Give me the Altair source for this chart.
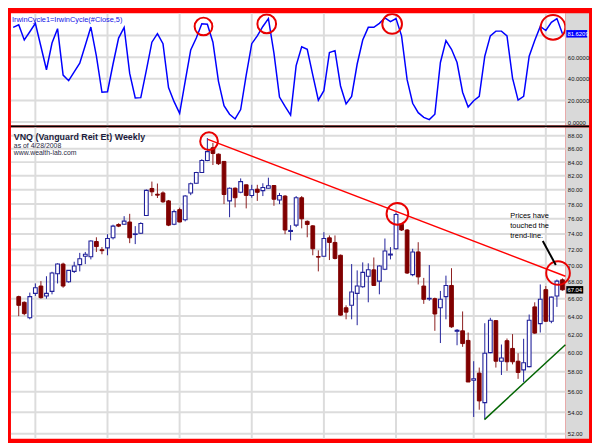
import altair as alt
import pandas as pd

# ---------------- data ----------------
# VNQ weekly candles (week 1 .. 99), last week = 4/28/2008
opens = [66.24, 65.58, 63.81, 66.62, 67.49, 66.32, 66.86, 68.98, 70.16, 68.0,
         69.26, 70.09, 71.14, 71.07, 73.01, 71.96, 72.2, 73.49, 75.24, 75.27,
         75.57, 73.92, 74.09, 76.44, 80.18, 79.37, 79.55, 78.44, 75.27, 77.24,
         75.87, 79.55, 80.92, 82.47, 84.24, 86.15, 85.19, 84.1, 78.44, 80.22,
         79.64, 80.7, 79.2, 80.08, 79.87, 80.22, 80.6, 78.57, 79.11, 74.32,
         75.15, 78.88, 75.66, 75.06, 71.1, 71.14, 73.49, 72.89, 71.26, 64.95,
         65.23, 66.62, 67.41, 68.67, 69.45, 68.08, 69.53, 71.29, 72.08, 75.27,
         74.51, 68.86, 71.68, 67.49, 65.97, 66.0, 64.95, 66.24, 67.56, 62.31,
         62.36, 61.31, 57.15, 57.87, 54.93, 60.0, 63.49, 59.1, 61.28, 60.45,
         59.1, 58.2, 58.54, 65.05, 63.16, 67.06, 63.42, 66.32, 68.24]
highs = [66.35, 65.68, 66.71, 67.8, 68.08, 68.67, 69.21, 70.25, 70.33, 69.41,
         70.45, 71.56, 71.68, 73.16, 73.56, 72.29, 73.96, 75.21, 75.4, 76.35,
         76.67, 75.02, 75.53, 80.04, 81.16, 80.88, 79.77, 78.57, 77.24, 77.51,
         79.24, 81.02, 82.57, 84.43, 87.65, 86.9, 85.29, 84.14, 80.32, 80.32,
         81.62, 80.74, 80.7, 80.7, 80.92, 81.72, 80.67, 79.55, 79.24, 75.15,
         79.11, 79.11, 75.78, 75.15, 71.88, 74.22, 73.8, 73.8, 71.35, 65.23,
         70.16, 69.38, 70.37, 70.25, 70.98, 70.0, 73.4, 72.29, 76.84, 75.4,
         74.64, 72.08, 72.92, 68.47, 70.04, 66.12, 66.91, 68.74, 69.65, 62.55,
         64.53, 62.17, 59.1, 58.44, 63.2, 63.81, 63.56, 60.87, 61.52, 62.0,
         59.94, 61.49, 64.18, 65.58, 67.68, 67.49, 66.24, 68.27, 68.41]
lows = [64.0, 64.1, 63.64, 66.32, 66.0, 66.0, 66.51, 67.8, 67.29, 67.88,
        69.06, 69.26, 70.16, 70.74, 71.68, 71.39, 71.26, 73.28, 74.89, 75.21,
        72.8, 72.68, 74.0, 76.37, 79.11, 78.84, 78.17, 75.02, 75.15, 75.53,
        75.66, 79.24, 80.88, 82.43, 84.14, 83.57, 83.57, 78.0, 76.21, 77.55,
        79.51, 77.41, 78.88, 78.44, 79.11, 80.18, 77.77, 78.0, 73.96, 73.16,
        74.89, 74.73, 73.56, 71.26, 69.26, 71.1, 70.66, 70.74, 64.05, 63.64,
        63.64, 62.98, 67.29, 65.58, 67.53, 66.51, 69.41, 70.74, 71.96, 74.38,
        68.94, 68.67, 67.68, 65.4, 65.76, 62.36, 61.03, 63.64, 62.69, 60.79,
        60.62, 56.97, 53.56, 54.25, 53.37, 59.94, 58.44, 57.68, 58.1, 58.77,
        57.29, 56.97, 58.47, 62.03, 62.17, 63.34, 63.2, 65.05, 66.94]
closes = [65.23, 64.28, 66.24, 67.29, 66.12, 66.62, 69.06, 70.16, 67.49, 69.38,
          69.92, 70.82, 71.39, 73.08, 72.36, 71.84, 73.4, 75.02, 75.02, 75.69,
          73.49, 74.0, 75.36, 79.91, 79.71, 79.24, 78.31, 75.15, 76.97, 75.57,
          79.11, 80.84, 82.47, 84.24, 85.57, 85.29, 83.76, 79.33, 80.22, 78.88,
          81.16, 79.2, 80.0, 79.64, 80.32, 80.56, 78.67, 79.2, 74.51, 74.45,
          78.88, 76.0, 75.24, 72.08, 71.02, 73.4, 72.89, 70.86, 64.11, 64.45,
          66.79, 67.49, 69.14, 69.45, 67.56, 69.92, 71.8, 71.41, 76.57, 74.51,
          69.06, 71.68, 68.59, 65.93, 66.04, 64.24, 65.93, 67.56, 62.8, 62.42,
          60.97, 56.97, 57.29, 55.1, 59.94, 63.53, 59.1, 59.44, 59.04, 59.04,
          57.94, 58.94, 63.53, 62.11, 65.93, 63.42, 66.18, 68.08, 67.04]
# IrwinCycle(#Close,5), weeks 0 .. 99
cycle = [87.6, 89.9, 76.0, 83.5, 91.3, 69.9, 48.4, 73.1, 86.4, 43.5,
         38.3, 46.4, 54.5, 71.0, 87.9, 60.9, 27.6, 28.1, 53.7, 77.7,
         87.6, 45.0, 22.3, 22.6, 47.9, 73.9, 81.8, 72.5, 31.9, 18.9,
         8.1, 37.7, 66.7, 77.7, 91.0, 90.5, 73.9, 37.7, 15.1, 7.3,
         2.9, 11.6, 43.5, 72.5, 79.7, 88.4, 95.7, 63.8, 23.2, 14.5,
         6.4, 52.2, 69.6, 67.3, 43.5, 20.3, 29.0, 64.4, 66.1, 33.4,
         16.8, 23.8, 53.7, 75.9, 87.6, 87.6, 91.3, 96.3, 92.8, 95.7,
         79.7, 39.2, 17.4, 8.7, 4.4, 2.3, 7.3, 55.1, 75.4, 67.3,
         55.1, 27.6, 13.9, 19.7, 23.8, 60.9, 79.7, 84.1, 84.1, 79.7,
         40.6, 20.3, 23.8, 60.9, 75.4, 88.4, 84.7, 92.2, 95.7, 81.6209]
candle_weeks = list(range(1, 100))
cycle_weeks = list(range(0, 100))
quarter_weeks = [4, 17, 30, 43, 56, 69, 83, 96]
price_ticks = [52, 54, 56, 58, 60, 62, 64, 66, 68, 70, 72, 74, 76, 78, 80, 82, 84, 86, 88]
cycle_grid = [0, 20, 40, 60, 80]
cycle_labels = [0, 20, 40, 60]

# annotations (data coordinates)
trend_weeks = [35.1, 99.53]
trend_prices = [87.45, 68.66]
support_weeks = [84.94, 99.53]
support_prices = [53.31, 60.85]
arrow_weeks = [95.45, 97.8]
arrow_prices = [73.08, 70.04]
note_week = [89.6]
note_price = [76.04]
note_text = ["Prices have\ntouched the\ntrend-line."]
top_circle_weeks = [34.3, 45.7, 68.3, 97.3]
top_circle_values = [88.4, 90.8, 90.8, 87.6]
bot_circle_weeks = [35.3, 69.25, 98.2]
bot_circle_prices = [87.16, 76.67, 69.06]

# ---------------- styles ----------------
W, H_TOP, H_BOT, STRIP = 563, 114, 316, 24
FONT = "Liberation Sans"
GRID = "#dcdcdc"
BLUE = "#20209a"
MAROON = "#800000"
RED = "#e80000"
TOP_RADII = [9, 9.5, 10, 12.5]
BOT_RADII = [9, 11, 12]

candles = pd.DataFrame(dict(week=candle_weeks, open=opens, high=highs, low=lows, close=closes))
cyc = pd.DataFrame(dict(week=cycle_weeks, value=cycle))
one = pd.DataFrame({"k": [0]})

XS = alt.Scale(domain=[-0.4, 99.53], nice=False, zero=False, padding=0)
YT = alt.Scale(domain=[-3.2, 100.6], nice=False, zero=False, padding=0)
YB = alt.Scale(type="log", domain=[51.54, 89.29], nice=False, padding=0)

axis_common = dict(orient="right", grid=False, ticks=False, tickSize=0, domain=False,
                   labelFont=FONT, labelFontSize=6, labelColor="#111111",
                   labelPadding=2, labelOverlap=False, zindex=1, title=None,
                   minExtent=STRIP, maxExtent=STRIP)
AX_TOP = alt.Axis(values=cycle_labels, format=".4f", **axis_common)
AX_BOT = alt.Axis(values=price_ticks, format=".2f", **axis_common)


def xq(field="week"):
    return alt.X(f"{field}:Q", scale=XS, axis=None)


def yt(field):
    return alt.Y(f"{field}:Q", scale=YT, axis=AX_TOP)


def yb(field):
    return alt.Y(f"{field}:Q", scale=YB, axis=AX_BOT)


def strip(h):
    return alt.Chart(one).mark_rect(color="#d9d9d9").encode(
        x=alt.value(W), x2=alt.value(W + STRIP), y=alt.value(0), y2=alt.value(h))


def vgrid():
    return alt.Chart(pd.DataFrame({"week": quarter_weeks})).mark_rule(
        color=GRID, strokeWidth=2).encode(x=xq())


def circle_layers(weeks_, vals, radii, yenc, clip):
    out = []
    for w, v, r in zip(weeks_, vals, radii):
        out.append(alt.Chart(pd.DataFrame({"week": [w], "v": [v]})).mark_point(
            shape="circle", size=(2 * r) ** 2, color=RED, strokeWidth=2,
            filled=False, opacity=1, clip=clip).encode(x=xq(), y=yenc("v")))
    return out


# ---------------- top panel ----------------
hgrid_top = alt.Chart(pd.DataFrame({"v": cycle_grid})).mark_rule(
    color=GRID, strokeWidth=2).encode(y=yt("v"))
cyc_line = alt.Chart(cyc).mark_line(color="#0000ff", strokeWidth=1.5).encode(
    x=xq(), y=yt("value"))
top_title = alt.Chart(one).mark_text(
    align="left", baseline="alphabetic", font=FONT, fontSize=7.5, color="#1414e6").encode(
    x=alt.value(1), y=alt.value(8.8), text=alt.value("IrwinCycle1=IrwinCycle(#Close,5)"))
last_cyc = alt.Chart(cyc).transform_filter("datum.week == 99")
top_box = last_cyc.mark_point(shape="M-2.65,-0.95H2.65V0.95H-2.65Z", size=64, filled=True,
                              color="#0000ff", opacity=1, strokeWidth=0).encode(
    x=alt.value(W + 11.5), y=yt("value"))
top_box_txt = last_cyc.mark_text(align="left", baseline="middle", font=FONT, fontSize=6,
                                 color="white").encode(
    x=alt.value(W + 2), y=yt("value"), text=alt.Text("value:Q", format=".4f"))
separator = alt.Chart(one).mark_rect(color="black").encode(
    x=alt.value(0), x2=alt.value(W + STRIP), y=alt.value(H_TOP), y2=alt.value(H_TOP + 2))

top = alt.layer(
    strip(H_TOP), hgrid_top, vgrid(), cyc_line,
    *circle_layers(top_circle_weeks, top_circle_values, TOP_RADII, yt, True),
    top_title, top_box, top_box_txt, separator
).properties(width=W, height=H_TOP)

# ---------------- bottom panel ----------------
hgrid_bot = alt.Chart(pd.DataFrame({"v": price_ticks})).mark_rule(
    color=GRID, strokeWidth=2).encode(y=yb("v"))
up = alt.Chart(candles).transform_filter("datum.close >= datum.open")
down = alt.Chart(candles).transform_filter("datum.close < datum.open")
wick_up = up.mark_rule(color=BLUE, strokeWidth=1).encode(x=xq(), y=yb("low"), y2="high:Q")
wick_down = down.mark_rule(color="#8b1c1c", strokeWidth=1).encode(x=xq(), y=yb("low"), y2="high:Q")
body_up = up.mark_bar(size=3.8, fill="white", stroke=BLUE, strokeWidth=1.1).encode(
    x=xq(), y=yb("open"), y2="close:Q")
body_down = down.mark_bar(size=3.8, fill=MAROON, stroke=MAROON, strokeWidth=1).encode(
    x=xq(), y=yb("open"), y2="close:Q")

trend = alt.Chart(pd.DataFrame({"week": trend_weeks, "p": trend_prices})).mark_line(
    color="#ff0000", strokeWidth=1.5).encode(x=xq(), y=yb("p"))
support = alt.Chart(pd.DataFrame({"week": support_weeks, "p": support_prices})).mark_line(
    color="#006400", strokeWidth=1.5).encode(x=xq(), y=yb("p"))
arrow = alt.Chart(pd.DataFrame({"week": arrow_weeks, "p": arrow_prices})).mark_line(
    color="black", strokeWidth=2).encode(x=xq(), y=yb("p"))
note = alt.Chart(pd.DataFrame({"week": note_week, "p": note_price, "t": note_text})).mark_text(
    align="left", baseline="alphabetic", lineBreak="\n", lineHeight=10, font=FONT,
    fontSize=7.5, color="black").encode(x=xq(), y=yb("p"), text="t:N")

title = alt.Chart(one).mark_text(align="left", baseline="alphabetic", font=FONT, fontSize=9,
                                 fontWeight="bold", color="#1c1c3c").encode(
    x=alt.value(2.9), y=alt.value(12.3), text=alt.value("VNQ (Vanguard Reit Et) Weekly"))
asof = alt.Chart(one).mark_text(align="left", baseline="alphabetic", font=FONT, fontSize=7,
                                color="#2a2a44").encode(
    x=alt.value(2.9), y=alt.value(20.5), text=alt.value("as of 4/28/2008"))
site = alt.Chart(one).mark_text(align="left", baseline="alphabetic", font=FONT, fontSize=7,
                                color="#2a2a44").encode(
    x=alt.value(2.9), y=alt.value(27.6), text=alt.value("www.wealth-lab.com"))

last_candle = alt.Chart(candles).transform_filter("datum.week == 99")
bot_box = last_candle.mark_point(shape="M-2.15,-0.95H2.15V0.95H-2.15Z", size=64, filled=True,
                                 color="black", opacity=1, strokeWidth=0).encode(
    x=alt.value(W + 9.5), y=yb("close"))
bot_box_txt = last_candle.mark_text(align="left", baseline="middle", font=FONT, fontSize=6,
                                    color="white").encode(
    x=alt.value(W + 2), y=yb("close"), text=alt.Text("close:Q", format=".2f"))

bottom = alt.layer(
    strip(H_BOT), hgrid_bot, vgrid(),
    wick_up, wick_down, body_up, body_down,
    trend, support,
    *circle_layers(bot_circle_weeks, bot_circle_prices, BOT_RADII, yb, False),
    arrow, note, title, asof, site, bot_box, bot_box_txt
).properties(width=W, height=H_BOT)

chart = alt.vconcat(top, bottom, spacing=2, bounds="flush").properties(
    background="#ff0000",
    padding={"left": 2, "top": 1, "right": 3, "bottom": 2},
).configure_view(fill="white", strokeWidth=0)

chart.save("out.html", embed_options={"renderer": "svg", "actions": False})
